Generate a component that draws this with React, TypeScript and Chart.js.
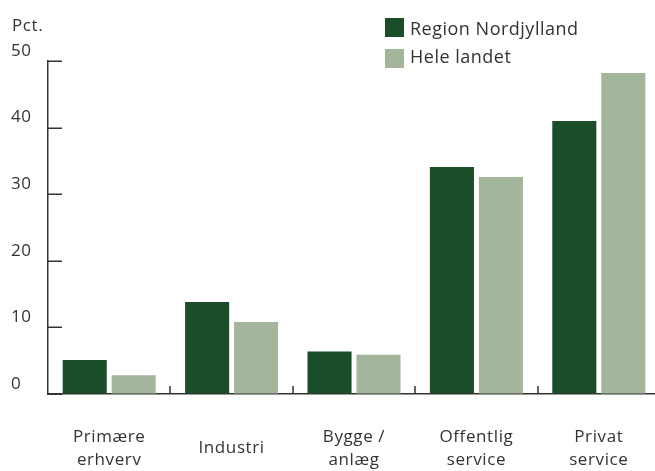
import React, { useEffect, useRef } from 'react';
import { Chart, registerables } from 'chart.js';

Chart.register(...registerables);

const categories: (string | string[])[] = [
  ['Primære', 'erhverv'],
  'Industri',
  ['Bygge /', 'anlæg'],
  ['Offentlig', 'service'],
  ['Privat', 'service'],
];
const seriesNames = ['Region Nordjylland', 'Hele landet'];
const nordjylland = [5.1, 13.8, 6.4, 34.1, 41.0];
const heleLandet = [2.8, 10.8, 5.9, 32.6, 48.2];
const yTickValues = [0, 10, 20, 30, 40, 50];
const yUnit = 'Pct.';

const COLORS = ['#1a4d28', '#a3b59b'];
const TEXT = '#333333';
const FONT = "'Open Sans', Lato, sans-serif";

const innerTicks = {
  id: 'innerTicks',
  beforeDraw(chart: any) {
    chart.ctx.letterSpacing = '0.6px';
  },
  afterDatasetsDraw(chart: any) {
    const ctx = chart.ctx;
    const x = chart.scales.x;
    const y = chart.scales.y;
    const area = chart.chartArea;
    ctx.save();
    ctx.strokeStyle = TEXT;
    ctx.lineWidth = 1.5;
    ctx.beginPath();
    for (let i = 1; i < categories.length; i++) {
      const px = Math.round(x.getPixelForValue(i - 0.5));
      ctx.moveTo(px, area.bottom);
      ctx.lineTo(px, area.bottom - 8);
    }
    y.ticks.forEach((t: any) => {
      const py = Math.round(y.getPixelForValue(t.value)) + 0.25;
      ctx.moveTo(area.left, py);
      ctx.lineTo(area.left + 14, py);
    });
    ctx.stroke();
    ctx.restore();
  },
};

export default function App() {
  const ref = useRef<HTMLCanvasElement | null>(null);

  useEffect(() => {
    if (!ref.current) return;
    const chart = new Chart(ref.current, {
      type: 'bar',
      data: {
        labels: categories,
        datasets: [
          { label: seriesNames[0], data: nordjylland, backgroundColor: COLORS[0], borderWidth: 0, categoryPercentage: 0.8, barPercentage: 0.9 },
          { label: seriesNames[1], data: heleLandet, backgroundColor: COLORS[1], borderWidth: 0, categoryPercentage: 0.8, barPercentage: 0.9 },
        ],
      },
      options: {
        responsive: false,
        animation: false,
        layout: { padding: { top: 61, left: 11, right: 0, bottom: 0 } },
        plugins: { legend: { display: false }, tooltip: { enabled: false } },
        scales: {
          x: {
            grid: { display: true, drawOnChartArea: false, drawTicks: false, offset: true },
            border: { display: true, color: TEXT, width: 1.5 },
            ticks: {
              color: TEXT,
              font: { family: FONT, size: 17, lineHeight: 1.35 },
              padding: 43,
              crossAlign: 'center',
              maxRotation: 0,
              autoSkip: false,
            },
            afterFit: (s: any) => { s.height = 77; s.paddingLeft = 0; s.paddingRight = 0; },
          },
          y: {
            min: 0,
            max: 50,
            afterBuildTicks: (s: any) => { s.ticks = yTickValues.map((v) => ({ value: v })); },
            ticks: { color: TEXT, font: { family: FONT, size: 17 }, crossAlign: 'far', labelOffset: -10, padding: 0 },
            grid: { display: true, drawOnChartArea: false, drawTicks: false },
            border: { display: true, color: TEXT, width: 1.5 },
            afterFit: (s: any) => { s.width = 37; s.paddingTop = 0; s.paddingBottom = 0; },
          },
        },
      } as any,
      plugins: [innerTicks],
    });
    return () => chart.destroy();
  }, []);

  return (
    <div style={{ position: 'fixed', left: 0, top: 0, width: 655, height: 471, overflow: 'hidden', background: '#fff', fontFamily: FONT, color: TEXT }}>
      <canvas ref={ref} width={660} height={471} style={{ display: 'block' }} />
      <div style={{ position: 'absolute', left: 12, top: 15, fontSize: 17, lineHeight: '20px', letterSpacing: '0.6px' }}>{yUnit}</div>
      {seriesNames.map((name, i) => (
        <React.Fragment key={name}>
          <div style={{ position: 'absolute', left: 385, top: i === 0 ? 18 : 49, width: 19, height: 19, background: COLORS[i] }} />
          <div style={{ position: 'absolute', left: 410, top: i === 0 ? 18 : 46, fontSize: 18, lineHeight: '20px', whiteSpace: 'nowrap', letterSpacing: '0.5px' }}>{name}</div>
        </React.Fragment>
      ))}
    </div>
  );
}
